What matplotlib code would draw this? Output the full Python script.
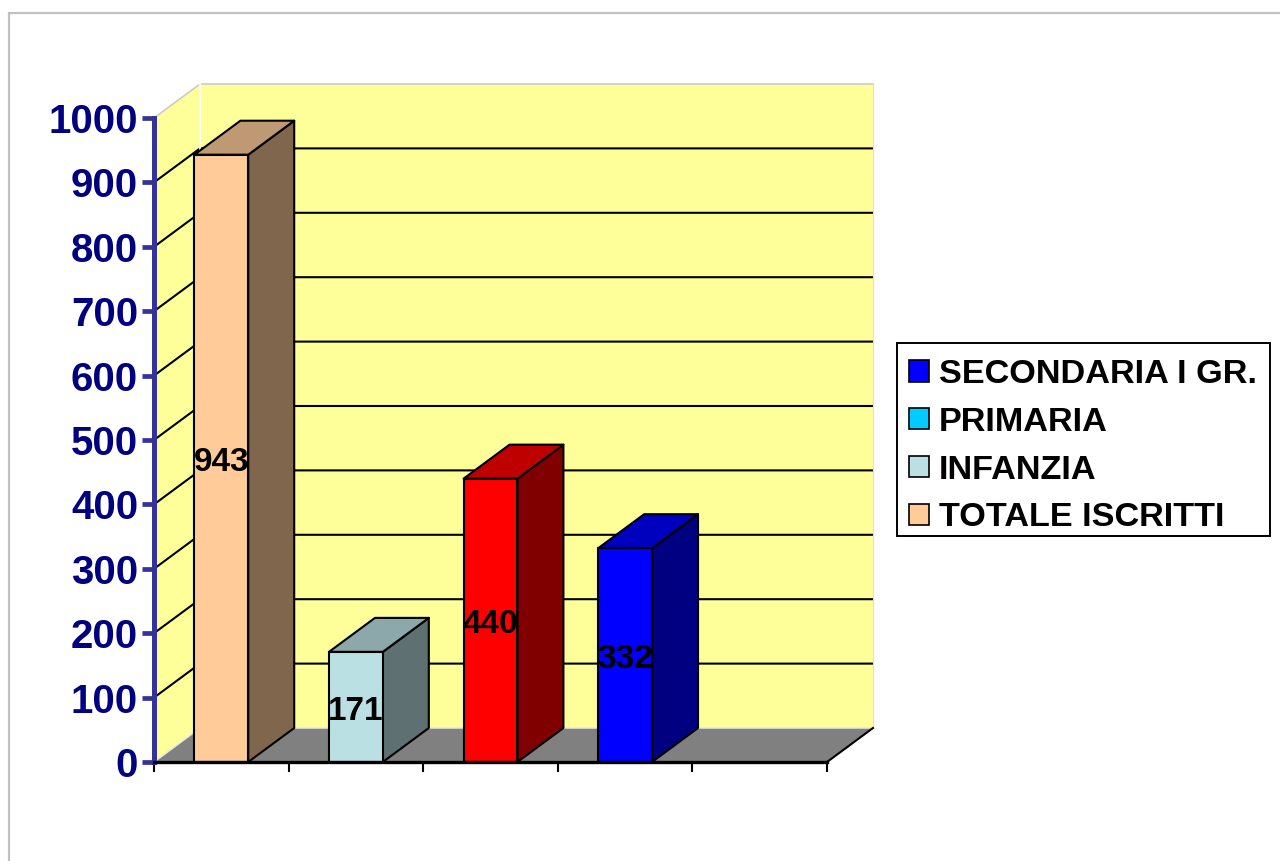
import matplotlib
matplotlib.use('Agg')
import matplotlib.pyplot as plt
from matplotlib.patches import Patch, Polygon, Rectangle

plt.rcParams['font.family'] = ['Liberation Sans', 'DejaVu Sans']
plt.rcParams['font.weight'] = 'bold'

# dati
categorie = ['TOTALE ISCRITTI', 'INFANZIA', 'PRIMARIA', 'SECONDARIA I GR.']
valori = [943, 171, 440, 332]
colori_barre = ['#FFCC99', '#BBE0E3', '#FF0000', '#0000FF']
voci_legenda = ['SECONDARIA I GR.', 'PRIMARIA', 'INFANZIA', 'TOTALE ISCRITTI']
colori_legenda = ['#0000FF', '#00CCFF', '#BBE0E3', '#FFCC99']
tick_y = list(range(0, 1001, 100))

W, H = 1280, 861
N_SLOT = 5
LARG = 0.4
# profondita' dell'effetto 3D, in unita' dei dati
DX = 46 / 134.6
DY = 34 / 644 * 1000
LW = 1.5


def scurisci(colore, f):
    r, g, b = matplotlib.colors.to_rgb(colore)
    return (r * f, g * f, b * f)


def poligono(ax, punti, fc, z, ec='none', lw=0):
    ax.add_patch(Polygon(punti, closed=True, facecolor=fc, edgecolor=ec,
                         linewidth=lw, zorder=z, clip_on=False, joinstyle='round'))


fig = plt.figure(figsize=(W / 100, H / 100), dpi=100, facecolor='white')
fig.add_artist(Rectangle((8.5 / W, -0.01), 1.1, 1 - 13 / H + 0.01, transform=fig.transFigure,
                         facecolor='none', edgecolor='#C0C0C0', linewidth=1.6))

ax = fig.add_axes([154 / W, 1 - 762 / H, 673 / W, 644 / H])
ax.set_xlim(0, N_SLOT)
ax.set_ylim(0, 1000)
ax.patch.set_visible(False)

# pareti e pavimento
giallo = '#FFFF99'
poligono(ax, [(DX, DY), (N_SLOT + DX, DY), (N_SLOT + DX, 1000 + DY), (DX, 1000 + DY)], giallo, 1)
poligono(ax, [(0, 0), (DX, DY), (DX, 1000 + DY), (0, 1000)], giallo, 1)
poligono(ax, [(0, 0), (N_SLOT, 0), (N_SLOT + DX, DY), (DX, DY)], '#808080', 1)

# griglia
for v in tick_y[1:-1]:
    ax.plot([0, DX, N_SLOT + DX], [v, v + DY, v + DY], color='black', lw=LW,
            zorder=2, clip_on=False)
ax.plot([0, DX, N_SLOT + DX], [1000, 1000 + DY, 1000 + DY], color='#C8C8C8', lw=1.1,
        zorder=2, clip_on=False)
ax.plot([DX, DX], [DY, 1000 + DY], color='white', lw=1.3, zorder=2, clip_on=False)
ax.plot([0, DX, N_SLOT + DX], [0, DY, DY], color='#E8E8E8', lw=1.1, zorder=2, clip_on=False)
ax.plot([N_SLOT + DX, N_SLOT + DX], [DY, 1000 + DY], color='#E0E0E0', lw=0.8, zorder=2, clip_on=False)
ax.plot([N_SLOT, N_SLOT + DX], [0, DY], color='black', lw=LW, zorder=3, clip_on=False)

# barre
pos = [i + 0.5 for i in range(len(valori))]
ax.bar(pos, valori, width=LARG, color=colori_barre, edgecolor='black', linewidth=LW,
       zorder=5)
for x, v, c in zip(pos, valori, colori_barre):
    x1 = x + LARG / 2
    x0 = x - LARG / 2
    poligono(ax, [(x1, 0), (x1 + DX, DY), (x1 + DX, v + DY), (x1, v)],
             scurisci(c, 0.5), 4, 'black', LW)
    poligono(ax, [(x0, v), (x1, v), (x1 + DX, v + DY), (x0 + DX, v + DY)],
             scurisci(c, 0.75), 4, 'black', LW)
    ax.annotate(str(v), (x, v / 2), xytext=(0, -3), textcoords='offset points',
                ha='center', va='center', fontsize=24, fontweight='bold',
                color='black', zorder=6)

# assi
ax.spines['top'].set_visible(False)
ax.spines['right'].set_visible(False)
ax.spines['left'].set_color('#333399')
ax.spines['left'].set_linewidth(3.6)
ax.spines['bottom'].set_color('black')
ax.spines['bottom'].set_linewidth(2.4)
ax.spines['left'].set_zorder(7)
ax.spines['bottom'].set_zorder(7)
ax.set_yticks(tick_y)
ax.set_xticks(range(N_SLOT + 1))
ax.set_xticklabels([])
ax.tick_params(axis='y', length=8.5, width=3.4, color='#333399', labelcolor='#000080',
               labelsize=29, pad=3)
ax.tick_params(axis='x', length=7.5, width=LW, color='black')
for t in ax.yaxis.get_ticklines():
    t.set_solid_capstyle('round')

# legenda: cornice separata per avere le stesse misure dell'originale
fig.add_artist(Rectangle((897 / W, 1 - 536 / H), 373 / W, 193 / H, transform=fig.transFigure,
                         facecolor='white', edgecolor='black', linewidth=1.4))
leg = fig.legend(
    [Patch(facecolor=c, edgecolor='black', linewidth=1.2) for c in colori_legenda],
    voci_legenda,
    loc='upper left',
    bbox_to_anchor=(909 / W, 1 - 359 / H),
    bbox_transform=fig.transFigure,
    fontsize=24.7,
    frameon=False,
    handlelength=0.58,
    handleheight=0.58,
    handletextpad=0.28,
    labelspacing=0.49,
    borderpad=0,
    borderaxespad=0,
)

fig.savefig('out.png', dpi=100)
